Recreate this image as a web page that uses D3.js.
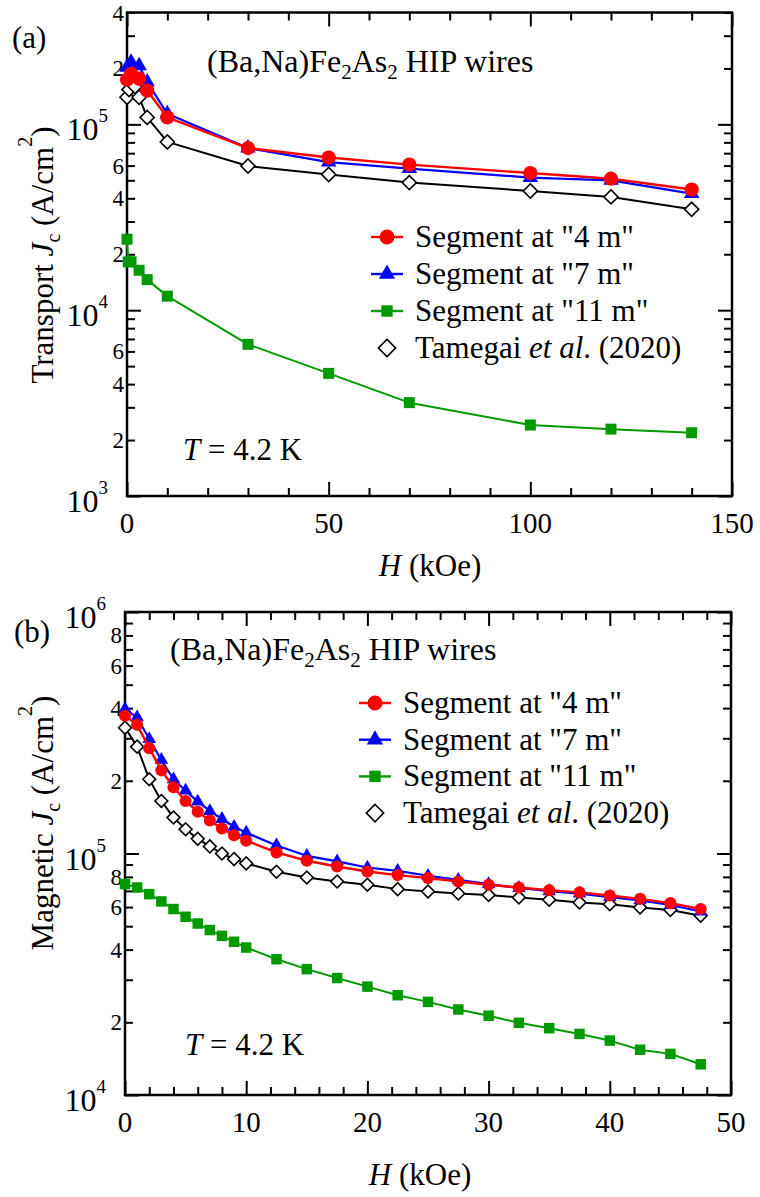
<!DOCTYPE html>
<html>
<head>
<script src="https://cdn.jsdelivr.net/npm/d3@7"></script>
<style>
    body { margin: 0; background: #fff; }
    svg text { font-family: "Liberation Serif", "Times New Roman", "DejaVu Serif", serif; fill: #000; }
</style>
</head>
<body>
<svg width="760" height="1197"></svg>
<script>
    // ---- panel (a): transport Jc vs H ----
    var hRedA   = [0, 1, 3, 5, 10, 30, 50, 70, 100, 120, 140];
    var jRedA   = [1.74e5, 1.87e5, 1.76e5, 1.52e5, 1.09e5, 7.46e4, 6.63e4, 6.07e4, 5.47e4, 5.10e4, 4.46e4];
    var hBlueA  = [0, 1, 3, 5, 10, 30, 50, 70, 100, 120, 140];
    var jBlueA  = [2.03e5, 2.16e5, 2.07e5, 1.69e5, 1.14e5, 7.46e4, 6.27e4, 5.78e4, 5.17e4, 5.00e4, 4.24e4];
    var hGreenA = [0, 0.3, 1, 3, 5, 10, 30, 50, 70, 100, 120, 140];
    var jGreenA = [2.41e4, 1.82e4, 1.82e4, 1.64e4, 1.46e4, 1.19e4, 6.55e3, 4.57e3, 3.18e3, 2.41e3, 2.29e3, 2.19e3];
    var hBlackA = [0, 0.5, 2, 3, 5, 10, 30, 50, 70, 100, 120, 140];
    var jBlackA = [1.40e5, 1.54e5, 1.60e5, 1.40e5, 1.09e5, 8.05e4, 5.97e4, 5.37e4, 4.86e4, 4.38e4, 4.07e4, 3.49e4];

    // ---- panel (b): magnetic Jc vs H ----
    var hB      = [0, 1, 2, 3, 4, 5, 6, 7, 8, 9, 10, 12.5, 15, 17.5, 20, 22.5, 25, 27.5, 30, 32.5, 35, 37.5, 40, 42.5, 45, 47.5];
    var jRedB   = [3.72e5, 3.41e5, 2.73e5, 2.21e5, 1.88e5, 1.65e5, 1.49e5, 1.37e5, 1.27e5, 1.19e5, 1.13e5, 1.01e5, 9.33e4,
                   8.83e4, 8.42e4, 8.14e4, 7.91e4, 7.66e4, 7.42e4, 7.23e4, 7.05e4, 6.90e4, 6.70e4, 6.49e4, 6.23e4, 5.89e4];
    var jBlueB  = [3.96e5, 3.66e5, 2.98e5, 2.44e5, 2.03e5, 1.82e5, 1.64e5, 1.50e5, 1.39e5, 1.29e5, 1.22e5, 1.08e5, 9.78e4,
                   9.27e4, 8.75e4, 8.48e4, 8.09e4, 7.78e4, 7.47e4, 7.20e4, 6.98e4, 6.82e4, 6.60e4, 6.40e4, 6.12e4, 5.75e4];
    var jGreenB = [7.47e4, 7.23e4, 6.79e4, 6.33e4, 5.89e4, 5.47e4, 5.13e4, 4.82e4, 4.56e4, 4.31e4, 4.08e4, 3.65e4, 3.32e4,
                   3.05e4, 2.81e4, 2.59e4, 2.43e4, 2.26e4, 2.13e4, 1.99e4, 1.89e4, 1.79e4, 1.68e4, 1.54e4, 1.48e4, 1.34e4];
    var jBlackB = [3.32e5, 2.77e5, 2.03e5, 1.65e5, 1.41e5, 1.26e5, 1.15e5, 1.07e5, 1.00e5, 9.48e4, 9.10e4, 8.40e4, 7.96e4,
                   7.66e4, 7.42e4, 7.12e4, 6.96e4, 6.83e4, 6.73e4, 6.58e4, 6.43e4, 6.27e4, 6.17e4, 5.98e4, 5.83e4, 5.52e4];

    var legendNames = ['Segment at "4 m"', 'Segment at "7 m"', 'Segment at "11 m"', 'Tamegai'];
    var xTicksA = [0, 50, 100, 150];
    var xTicksB = [0, 10, 20, 30, 40, 50];
    var yLabelMantA = [2, 4, 6];
    var yLabelMantB = [2, 4, 6, 8];

    var RED = "#ff0000", BLUE = "#0000ff", GREEN = "#009a00", BLACK = "#000";
    var FONT = "'Liberation Serif', 'Times New Roman', 'DejaVu Serif', serif";

    var svg = d3.select("svg").attr("font-family", FONT);

    // text with italic / sub / superscript pieces
    function rich(sel, parts) {
        var shift = 0;
        parts.forEach(function(p) {
            var off = p.off || 0;
            var ts = sel.append("tspan").text(p.t).attr("dy", off - shift);
            shift = off;
            if (p.size) ts.attr("font-size", p.size);
            if (p.i) ts.attr("font-style", "italic");
        });
        return sel;
    }

    function symPath(sym, ms) {
        var types = { circle: d3.symbolCircle, triangle: d3.symbolTriangle, square: d3.symbolSquare, diamond: d3.symbolSquare };
        return d3.symbol().type(types[sym]).size(ms[sym])();
    }
    function symTransform(sym, px, py) {
        return "translate(" + px + "," + py + ")" + (sym === "diamond" ? " rotate(45)" : "");
    }

    function drawPanel(p) {
        var g = svg.append("g");
        var x = d3.scaleLinear().domain(p.xDomain).range([p.left, p.right]);
        var y = d3.scaleLog().domain(p.yDomain).range([p.bottom, p.top]);

        var xMinor = d3.range(p.xDomain[0], p.xDomain[1] + 1e-9, p.xMinorStep)
            .filter(function(v) { return p.xTicks.indexOf(v) < 0; });
        var yAll = y.ticks();
        var isDecade = function(v) { var l = Math.log10(v); return Math.abs(l - Math.round(l)) < 1e-6; };
        var yMajor = yAll.filter(isDecade);
        var yMinor = yAll.filter(function(v) { return !isDecade(v); });

        function ax(gen, tr, vals, len) {
            g.append("g").attr("transform", tr)
                .call(gen.tickValues(vals).tickSize(-len).tickFormat(""))
                .call(function(s) { s.select(".domain").remove(); s.selectAll("line").attr("stroke-width", 2); });
        }
        ax(d3.axisBottom(x), "translate(0," + p.bottom + ")", p.xTicks, 14);
        ax(d3.axisBottom(x), "translate(0," + p.bottom + ")", xMinor, 8);
        ax(d3.axisTop(x), "translate(0," + p.top + ")", p.xTicks, 14);
        ax(d3.axisTop(x), "translate(0," + p.top + ")", xMinor, 8);
        ax(d3.axisLeft(y), "translate(" + p.left + ",0)", yMajor, 14);
        ax(d3.axisLeft(y), "translate(" + p.left + ",0)", yMinor, 8);
        ax(d3.axisRight(y), "translate(" + p.right + ",0)", yMajor, 14);
        ax(d3.axisRight(y), "translate(" + p.right + ",0)", yMinor, 8);

        g.append("rect")
            .attr("x", p.left).attr("y", p.top)
            .attr("width", p.right - p.left).attr("height", p.bottom - p.top)
            .attr("fill", "none").attr("stroke", "#000").attr("stroke-width", 2.5);

        // x tick labels
        g.selectAll(".xl").data(p.xTicks).enter().append("text")
            .attr("x", function(d) { return x(d); })
            .attr("y", p.bottom + 37)
            .attr("text-anchor", "middle")
            .attr("font-size", 29)
            .text(function(d) { return d; });

        // y tick labels
        yMajor.forEach(function(v) {
            var t = g.append("text")
                .attr("x", p.left - 19).attr("y", y(v) + 16)
                .attr("text-anchor", "end").attr("font-size", 32);
            rich(t, [{ t: "10" }, { t: String(Math.round(Math.log10(v))), size: 19, off: -18 }]);
        });
        yMinor.forEach(function(v) {
            var m = Math.round(v / Math.pow(10, Math.floor(Math.log10(v) + 1e-9)));
            if (p.yLabelMant.indexOf(m) < 0) return;
            g.append("text")
                .attr("x", p.left - 3).attr("y", y(v) + 8)
                .attr("text-anchor", "end").attr("font-size", 23)
                .text(m);
        });

        // axis titles
        rich(g.append("text").attr("x", p.xTitleX).attr("y", p.bottom + p.xTitleDy)
            .attr("text-anchor", "middle").attr("font-size", 31),
            [{ t: "H", i: true }, { t: " (kOe)" }]);
        rich(g.append("text")
            .attr("transform", "translate(53," + p.yTitleY + ") rotate(-90)")
            .attr("text-anchor", "middle").attr("font-size", 31),
            [{ t: p.yTitle + " " }, { t: "J", i: true }, { t: "c", size: 20, off: 7 },
             { t: " (A/cm" }, { t: "2", size: 20, off: -21 }, { t: ")" }]);

        // panel letter, title, temperature
        g.append("text").attr("x", p.letterX).attr("y", p.letterY).attr("font-size", 31).text(p.letter);
        rich(g.append("text").attr("x", p.titleX).attr("y", p.titleY).attr("font-size", 32),
            [{ t: "(Ba,Na)Fe" }, { t: "2", size: 21, off: 7 }, { t: "As" }, { t: "2", size: 21, off: 7 }, { t: " HIP wires" }]);
        rich(g.append("text").attr("x", p.tX).attr("y", p.tY).attr("font-size", 31),
            [{ t: "T", i: true }, { t: " = 4.2 K" }]);

        // series: black and green underneath, red on top
        var series = [
            { h: p.hBlack, j: p.jBlack, color: BLACK, sym: "diamond", w: 2 },
            { h: p.hGreen, j: p.jGreen, color: GREEN, sym: "square", w: 2 },
            { h: p.hBlue,  j: p.jBlue,  color: BLUE,  sym: "triangle", w: 2.2 },
            { h: p.hRed,   j: p.jRed,   color: RED,   sym: "circle", w: 2.4 }
        ];
        var line = d3.line().x(function(d) { return x(d[0]); }).y(function(d) { return y(d[1]); });
        series.forEach(function(s) {
            var pts = d3.zip(s.h, s.j);
            g.append("path").datum(pts)
                .attr("fill", "none").attr("stroke", s.color).attr("stroke-width", s.w)
                .attr("stroke-linejoin", "round").attr("d", line);
            g.selectAll(null).data(pts).enter().append("path")
                .attr("transform", function(d) { return symTransform(s.sym, x(d[0]), y(d[1])); })
                .attr("d", symPath(s.sym, p.ms))
                .attr("fill", s.sym === "diamond" ? "#fff" : s.color)
                .attr("stroke", s.sym === "diamond" ? "#000" : "none")
                .attr("stroke-width", 1.6);
        });

        // legend
        var leg = [
            { color: RED, sym: "circle" }, { color: BLUE, sym: "triangle" },
            { color: GREEN, sym: "square" }, { color: BLACK, sym: "diamond" }
        ];
        leg.forEach(function(l, i) {
            var cy = p.legY + i * p.legDy;
            if (l.sym !== "diamond") {
                g.append("line").attr("x1", p.legX - 16).attr("x2", p.legX + 16)
                    .attr("y1", cy).attr("y2", cy).attr("stroke", l.color).attr("stroke-width", 2.4);
            }
            g.append("path")
                .attr("transform", symTransform(l.sym, p.legX, cy))
                .attr("d", symPath(l.sym, p.legMs))
                .attr("fill", l.sym === "diamond" ? "#fff" : l.color)
                .attr("stroke", l.sym === "diamond" ? "#000" : "none")
                .attr("stroke-width", 1.6);
            var t = g.append("text").attr("x", p.legX + 28).attr("y", cy + 10).attr("font-size", 31);
            if (i < 3) t.text(legendNames[i]);
            else rich(t, [{ t: legendNames[3] + " " }, { t: "et al", i: true }, { t: ". (2020)" }]);
        });
    }

    drawPanel({
        left: 127, right: 732, top: 12.5, bottom: 496,
        xDomain: [0, 150], xTicks: xTicksA, xMinorStep: 10,
        yDomain: [1e3, 4e5], yLabelMant: yLabelMantA,
        xTitleX: 430, xTitleDy: 80, yTitleY: 255, yTitle: "Transport",
        letter: "(a)", letterX: 12, letterY: 48,
        titleX: 207, titleY: 72, tX: 183, tY: 460,
        hRed: hRedA, jRed: jRedA, hBlue: hBlueA, jBlue: jBlueA,
        hGreen: hGreenA, jGreen: jGreenA, hBlack: hBlackA, jBlack: jBlackA,
        ms: { circle: 160, triangle: 105, square: 121, diamond: 100 },
        legMs: { circle: 180, triangle: 115, square: 130, diamond: 150 },
        legX: 387, legY: 237, legDy: 37
    });

    drawPanel({
        left: 125, right: 731, top: 612, bottom: 1095,
        xDomain: [0, 50], xTicks: xTicksB, xMinorStep: 2,
        yDomain: [1e4, 1e6], yLabelMant: yLabelMantB,
        xTitleX: 420, xTitleDy: 90, yTitleY: 823, yTitle: "Magnetic",
        letter: "(b)", letterX: 14, letterY: 642,
        titleX: 170, titleY: 660, tX: 185, tY: 1055,
        hRed: hB, jRed: jRedB, hBlue: hB, jBlue: jBlueB,
        hGreen: hB, jGreen: jGreenB, hBlack: hB, jBlack: jBlackB,
        ms: { circle: 115, triangle: 80, square: 110, diamond: 82 },
        legMs: { circle: 180, triangle: 115, square: 130, diamond: 150 },
        legX: 375, legY: 703, legDy: 36.7
    });
</script>
</body>
</html>
